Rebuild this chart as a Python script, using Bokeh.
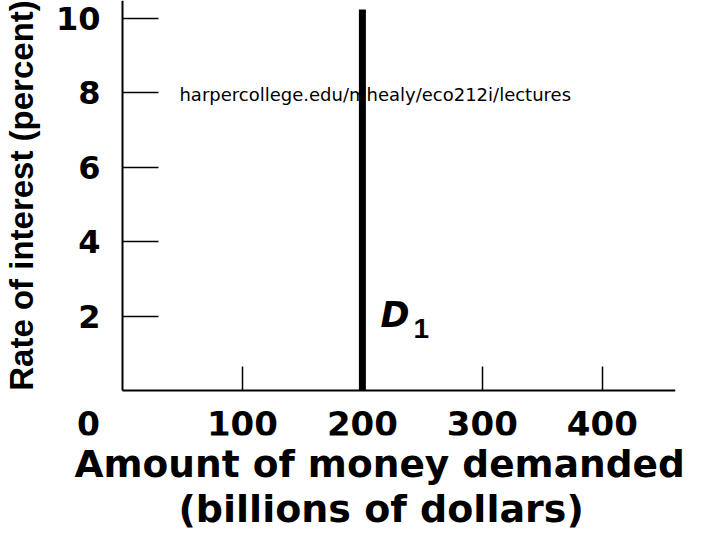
from bokeh.plotting import figure
from bokeh.models import Range1d, FixedTicker, Label, Title
from bokeh.embed import file_html
from bokeh.resources import INLINE

# data
x_ticks = [100, 200, 300, 400]
y_ticks = [2, 4, 6, 8, 10]
demand_x = [200, 200]
demand_y = [0, 10.24]
x_title_1 = "Amount of money demanded"
x_title_2 = "(billions of dollars)"
y_title = "Rate of interest (percent)"
watermark = "harpercollege.edu/mhealy/eco212i/lectures"

X_MAX, Y_MAX = 461, 10.48

p = figure(frame_width=673, frame_height=435, output_backend="svg",
           toolbar_location=None, x_range=Range1d(-100, X_MAX), y_range=Range1d(-1.21, Y_MAX),
           min_border_top=0, min_border_left=2, min_border_right=37, min_border_bottom=97)
p.outline_line_color = None
p.grid.visible = False
p.background_fill_color = "white"

TICK_FONT = "DejaVu Sans"
xa = p.xaxis[0]
ya = p.yaxis[0]
for ax in (xa, ya):
    ax.fixed_location = 0
    ax.axis_line_width = 2
    ax.axis_line_color = "black"
    ax.major_tick_line_width = 1.5
    ax.major_tick_line_color = "black"
    ax.major_tick_out = 0
    ax.minor_tick_out = 0
    ax.minor_tick_in = 0
    ax.major_label_text_font = TICK_FONT
    ax.major_label_text_font_style = "bold"
    ax.major_label_text_color = "black"
xa.bounds = (0, X_MAX)
ya.bounds = (0, Y_MAX)
xa.major_label_text_font_size = "34px"
ya.major_label_text_font_size = "32px"
xa.ticker = FixedTicker(ticks=x_ticks)
ya.ticker = FixedTicker(ticks=y_ticks)
xa.major_tick_in = 24
ya.major_tick_in = 36
xa.major_label_standoff = 21
ya.major_label_standoff = 22

ya.axis_label = y_title
ya.axis_label_text_font = "Liberation Sans"
ya.axis_label_text_font_style = "bold"
ya.axis_label_text_font_size = "33px"
ya.axis_label_standoff = 13
ya.axis_label_text_color = "black"

p.add_layout(Title(text=x_title_1, align="left", offset=72, standoff=8, text_font=TICK_FONT,
                   text_font_style="bold", text_font_size="37.5px", text_color="black"), "below")
p.add_layout(Title(text=x_title_2, align="left", offset=176, standoff=-10, text_font=TICK_FONT,
                   text_font_style="bold", text_font_size="38px", text_color="black"), "below")

# watermark text (behind the line)
p.add_layout(Label(x=47.5, y=7.66, text=watermark, text_font="DejaVu Sans",
                   text_font_size="18px", text_color="black", level="underlay"))

# demand curve
p.line(demand_x, demand_y, line_width=7, line_color="black", line_cap="butt")

# D1 label
p.add_layout(Label(x=demand_x[0], y=1.5, x_offset=18, text="D", text_font="DejaVu Sans",
                   text_font_style="bold italic", text_font_size="35px", text_color="black"))
p.add_layout(Label(x=demand_x[0], y=1.42, x_offset=51, text="1", text_font="Liberation Sans",
                   text_font_style="bold", text_font_size="28px", text_color="black"))

# origin label
p.add_layout(Label(x=0, y=0, x_offset=-34, y_offset=-33, text="0", text_font=TICK_FONT,
                   text_font_style="bold", text_font_size="33px", text_color="black",
                   text_align="center", text_baseline="middle"))

open("out.html", "w").write(file_html(p, INLINE))
